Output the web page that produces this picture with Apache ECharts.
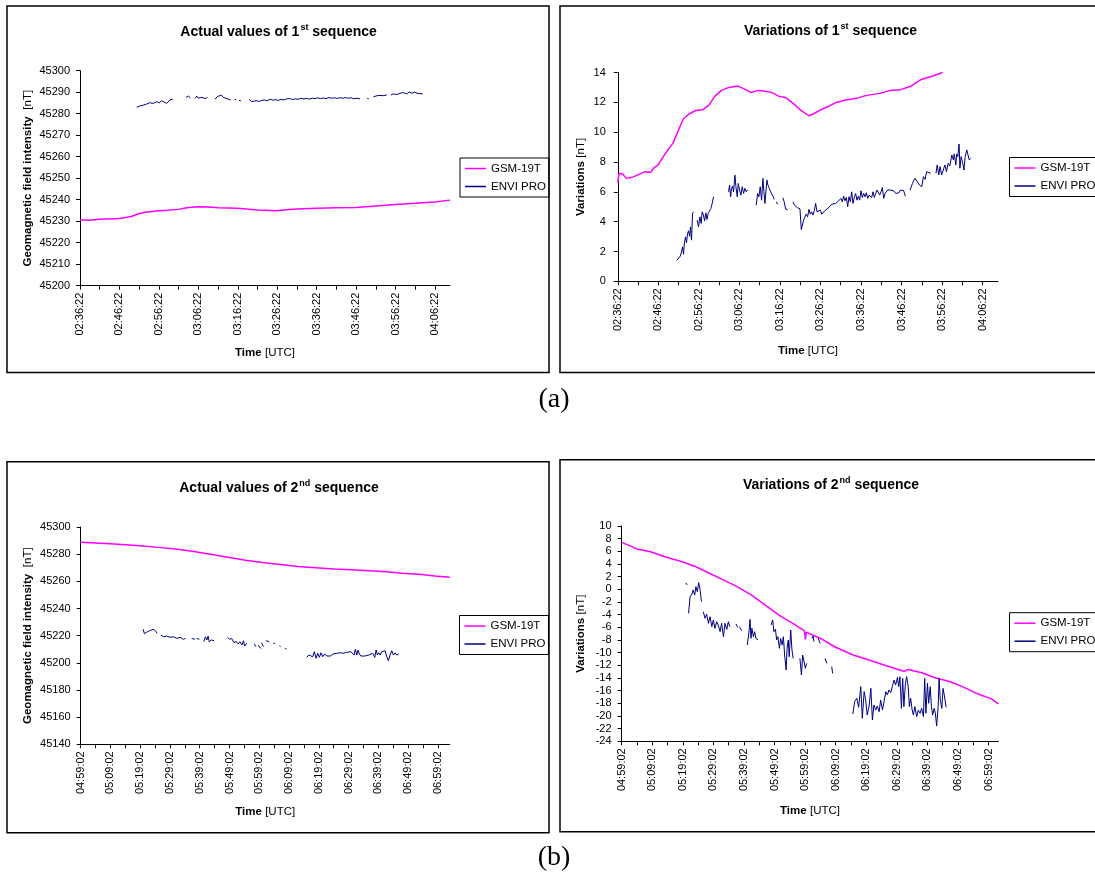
<!DOCTYPE html>
<html>
<head>
<meta charset="utf-8">
<script src="https://cdn.jsdelivr.net/npm/echarts@6/dist/echarts.min.js"></script>
<style>
html,body{margin:0;padding:0;background:#fff;}
#chart{width:1095px;height:875px;}
</style>
</head>
<body>
<div id="chart"></div>
<script>
// ---------------- DATA ----------------
// x = minutes after the first tick time of each sequence
const START_A = '02:36:22';
const START_B = '04:59:02';
const TICKS_A = [0,5,10,15,20,25,30,35,40,45,50,55,60,65,70,75,80,85,90];
const LABELS_A = [0,10,20,30,40,50,60,70,80,90];
const TICKS_B = [0,5,10,15,20,25,30,35,40,45,50,55,60,65,70,75,80,85,90,95,100,105,110,115,120];
const LABELS_B = [0,10,20,30,40,50,60,70,80,90,100,110,120];
const SERIES_NAMES = ['GSM-19T', 'ENVI PRO'];

// (a) actual values, 1st sequence  [minute, nT]; null = gap
const A1_GSM = [[0,45230.7],[2,45230.4],[5,45230.9],[10,45231.3],[13,45232.2],[15,45233.6],[17,45234.3],[20,45234.9],[22,45235.1],[25,45235.5],[27,45236.3],[30,45236.7],[33,45236.6],[35,45236.3],[40,45236.0],[45,45235.2],[50,45234.9],[53,45235.4],[55,45235.7],[60,45236.0],[65,45236.3],[70,45236.4],[75,45237.1],[80,45237.8],[85,45238.3],[90,45238.9],[93.8,45239.8]];
const A1_ENVI = [[14.4,45283.0],[15.2,45283.6],[16.1,45284.0],[16.9,45284.5],[17.7,45285.1],[18.6,45284.8],[19.4,45285.6],[20.1,45285.1],[20.7,45286.0],[21.1,45285.1],[22.0,45284.8],[22.8,45286.4],[23.5,45286.7],null,
[26.9,45287.6],[27.5,45288.2],[28.0,45287.3],null,
[29.2,45287.2],[29.6,45288.2],[30.0,45287.2],[30.9,45287.6],[31.7,45287.0],[32.3,45287.6],null,
[34.2,45286.7],[34.8,45287.9],[35.3,45287.2],[35.8,45288.7],[36.3,45287.6],[37.0,45287.2],[37.6,45286.7],[38.2,45286.4],null,
[39.2,45286.6],[39.6,45286.5],null,[40.3,45286.2],[40.8,45286.0],null,
[42.9,45286.7],[43.5,45285.6],[44.2,45285.9],[44.8,45286.0],[45.5,45285.7],[46.1,45286.2],[46.8,45286.4],[47.4,45286.0],[48.2,45286.7],[48.9,45286.3],[49.6,45286.5],[50.3,45286.2],[51.0,45286.7],[51.7,45286.4],[52.4,45286.9],[53.2,45287.0],[53.9,45286.6],[54.6,45286.9],[55.3,45286.7],[56.0,45287.2],[56.7,45286.9],[57.4,45287.1],[58.2,45286.8],[58.9,45287.2],[59.6,45287.0],[60.3,45287.4],[61.0,45287.0],[61.7,45287.3],[62.4,45287.0],[63.1,45287.5],[63.8,45287.2],[64.5,45287.4],[65.2,45287.1],[65.9,45287.4],[66.6,45287.2],[67.3,45287.5],[68.0,45287.2],[68.7,45287.4],[69.4,45287.0],[70.2,45287.2],[71.0,45286.9],null,
[72.8,45287.0],[73.2,45287.0],null,
[74.4,45287.9],[75.6,45288.5],[76.9,45288.4],[77.8,45288.7],null,
[78.8,45288.7],[79.4,45289.2],[80.3,45288.9],[81.1,45289.5],[82.0,45289.8],[82.8,45289.2],[83.5,45290.1],[84.1,45289.5],[84.8,45290.0],[85.7,45289.4],[86.9,45289.2]];

// (a) variations, 1st sequence  [minute, nT]
const A2_GSM = [[0,6.6],[0.3,7.25],[1.2,7.2],[2.1,6.9],[3.8,7.0],[5.5,7.2],[6.8,7.35],[8.1,7.3],[8.9,7.6],[10,7.8],[10.6,8.1],[12.3,8.8],[13.6,9.25],[14.9,10.1],[16.2,10.9],[17.5,11.2],[19.2,11.45],[20.9,11.5],[22.6,11.85],[23.9,12.4],[25.6,12.8],[27.4,13.0],[29.5,13.1],[31.2,12.9],[32.9,12.65],[34.6,12.8],[36.4,12.75],[38.1,12.65],[39.8,12.4],[41.5,12.3],[43.2,11.95],[45,11.5],[47.1,11.1],[48.4,11.25],[50.1,11.5],[51.8,11.7],[53.5,11.95],[56.1,12.15],[58.7,12.25],[60.4,12.4],[62.1,12.5],[64.7,12.6],[67.2,12.8],[69.8,12.85],[72.4,13.1],[75,13.55],[77.5,13.75],[80.1,14.0]];
const A2_ENVI = [[14.57,1.41],[14.98,1.52],[15.39,1.68],[15.72,1.97],[15.97,2.31],[16.21,1.81],[16.46,2.64],[16.71,2.98],[16.95,2.58],[17.20,3.20],[17.45,3.38],[17.70,3.02],[17.94,3.65],[18.19,2.76],[18.44,4.55],[18.68,4.66],null,
[19.59,4.10],[19.92,3.65],[20.25,4.32],[20.58,3.88],[20.82,4.66],[21.15,4.44],[21.40,4.05],[21.73,4.59],[21.98,4.14],[22.30,4.55],[22.63,4.66],[22.96,4.88],[23.29,5.22],[23.62,5.67],null,
[27.33,6.00],[27.57,6.45],[27.82,5.67],[28.07,6.23],[28.31,6.38],[28.56,6.00],[28.89,7.12],[29.14,6.34],[29.47,5.67],[29.71,6.56],[30.04,6.12],[30.37,5.78],[30.70,6.34],[31.03,5.89],[31.36,6.23],[31.69,6.00],[32.02,6.12],null,
[34.16,5.11],[34.49,5.89],[34.81,5.67],[35.14,6.34],[35.47,5.44],[35.80,6.90],[36.05,6.00],[36.30,5.22],[36.54,6.00],[36.79,6.79],[37.04,6.45],[37.37,6.23],[37.70,6.00],[38.02,5.89],[38.35,5.67],[38.60,5.49],null,
[39.09,5.33],[39.42,5.17],null,
[40.74,5.60],[41.07,5.30],[41.40,4.85],[41.89,4.80],null,
[43.21,5.33],[43.62,5.10],[44.03,5.05],[44.36,4.93],[44.69,4.98],[44.94,4.86],[45.27,3.47],[45.84,4.10],[46.17,4.32],[46.50,4.50],[46.83,4.32],[47.16,4.82],[47.49,4.50],[47.82,4.66],[48.15,4.44],[48.48,4.73],[48.81,5.22],[49.14,4.66],[49.55,4.55],[49.96,4.77],[50.37,4.50],[50.78,4.66],[51.28,4.77],[51.77,4.88],[52.26,5.00],[52.76,5.17],[53.25,5.11],[53.74,5.22],[54.24,5.33],[54.73,5.44],[55.06,5.56],[55.39,5.33],[55.72,5.71],[56.05,5.40],[56.38,5.62],[56.71,5.00],[57.04,5.67],[57.37,5.33],[57.70,6.00],[58.02,5.22],[58.35,5.62],[58.68,5.89],[59.01,5.44],[59.34,5.71],[59.67,5.44],[60.00,6.07],[60.33,5.62],[60.66,5.89],[60.99,5.67],[61.32,5.94],[61.65,5.56],[61.98,5.78],[62.30,5.89],[62.63,5.62],[62.96,6.00],[63.29,5.62],[63.62,5.89],[63.95,6.12],[64.28,6.23],[64.61,5.78],[64.94,6.00],[65.27,6.29],[65.60,5.56],[65.93,5.89],[66.26,5.78],[66.58,6.12],[66.91,6.07],[67.24,6.12],[67.57,6.00],[68.07,6.07],[68.56,5.89],[68.89,5.85],[69.38,5.94],[69.71,6.12],[70.12,6.16],[70.53,6.07],[70.95,5.71],null,
[72.1,6.12],[72.7,6.57],[73.3,6.91],[73.9,6.68],[74.4,6.46],[75.0,6.34],[75.4,7.02],[75.8,6.84],[76.2,7.35],[76.6,7.42],[77.2,7.24],null,
[78.5,7.24],[78.8,7.80],[79.2,7.13],[79.5,7.69],[79.9,7.13],[80.3,7.46],[80.7,7.80],[81.1,7.35],[81.5,7.91],[81.9,7.73],[82.4,8.47],[82.8,8.14],[83.0,8.54],[83.4,7.80],[83.6,8.54],[83.9,8.36],[84.2,9.21],[84.4,7.58],[84.7,8.36],[85.1,7.91],[85.4,7.46],[85.7,8.36],[86.1,8.81],[86.4,8.47],[86.7,8.14],[87.1,8.25]];

// (b) actual values, 2nd sequence
const B1_GSM = [[0,45288.7],[5,45288.2],[10,45287.6],[20,45286.2],[26,45285.0],[31.8,45283.8],[38,45282.0],[43.6,45280.0],[50,45277.6],[55.4,45275.6],[61,45273.8],[67.2,45272.4],[73,45271.0],[79,45270.0],[85,45269.0],[90.8,45268.5],[97,45267.8],[102.6,45267.0],[108,45266.0],[114.4,45265.0],[119,45264.0],[124,45263.0]];
const B1_ENVI = [[21.0,45224.7],[21.4,45221.5],[21.9,45220.5],[22.4,45222.9],[23.1,45223.6],[23.7,45222.9],[24.4,45224.7],[25.1,45223.6],[25.7,45221.7],null,
[26.9,45220.5],[27.8,45219.2],[28.9,45219.7],[30.0,45218.8],[31.1,45219.2],[32.3,45218.0],[33.4,45218.8],[34.5,45217.3],[35.2,45218.0],null,
[37.3,45218.0],[38.4,45217.3],null,[39.0,45218.0],[39.9,45217.3],null,
[41.4,45215.5],[41.9,45219.2],[42.4,45216.8],[42.8,45219.7],[43.2,45215.5],[43.9,45216.8],[44.8,45216.3],null,
[49.3,45218.8],[50.0,45217.3],[50.7,45218.0],[51.5,45214.8],[52.2,45215.8],[52.9,45213.9],[53.5,45215.5],[54.2,45213.1],[54.7,45216.3],[55.1,45212.4],[55.8,45214.4],null,
[58.3,45213.9],[58.9,45211.9],null,[59.7,45212.9],[60.5,45210.5],null,[60.8,45214.8],[61.4,45211.9],null,
[62.3,45216.3],[63.4,45215.5],null,[64.7,45214.4],[65.3,45214.4],null,[66.8,45212.4],[67.2,45211.9],null,[68.7,45210.7],[69.2,45210.0],null,
[75.97,45204.0],[76.64,45205.7],[77.31,45207.0],[77.98,45204.5],[78.52,45208.2],[79.09,45203.3],[79.66,45207.0],[80.20,45204.0],[80.77,45207.4],[81.34,45204.5],[82.02,45206.5],[82.69,45205.0],[83.36,45206.3],[84.03,45205.0],[84.71,45206.5],[85.38,45205.5],[86.05,45207.0],[86.72,45206.5],[87.39,45207.4],[88.07,45207.0],[88.74,45208.2],[89.41,45207.7],[90.08,45208.9],[90.76,45208.2],[91.43,45209.4],[91.87,45205.7],[92.30,45209.9],[92.77,45205.7],[93.21,45209.4],[93.65,45206.5],[94.12,45205.0],[94.79,45204.0],[95.46,45205.0],[96.13,45204.0],[96.81,45205.7],[97.48,45204.5],[98.15,45207.0],[98.82,45204.0],[99.26,45209.4],[99.70,45205.7],[100.17,45207.4],[100.61,45205.7],[101.18,45208.2],[101.71,45207.0],[102.29,45208.9],[102.86,45204.5],[103.39,45201.5],[103.97,45205.7],[104.54,45208.9],[105.08,45205.7],[105.65,45207.4],[106.22,45205.7],[106.89,45206.5]];

// (b) variations, 2nd sequence
const B2_GSM = [[0,7.41],[2.7,6.9],[5,6.36],[9.5,5.93],[14.1,5.14],[19.8,4.35],[24.3,3.56],[28.9,2.5],[33.4,1.45],[37.95,0.39],[42.5,-0.93],[47,-2.51],[51.6,-4.1],[56.1,-5.42],[59.8,-6.55],[60.1,-7.9],[60.4,-6.75],[65.2,-7.8],[69.8,-9.11],[75.5,-10.33],[81.1,-11.2],[86.8,-12.1],[92.5,-12.97],[93.6,-12.65],[98.2,-13.18],[102.7,-14.0],[107.3,-14.55],[111.8,-15.45],[116.4,-16.5],[120.9,-17.3],[123.2,-18.1]];
const B2_ENVI = [[21.06,1.0],[21.39,0.7],null,
[21.9,-3.79],[22.4,-1.16],[23.0,-0.74],[23.4,-0.1],[23.9,-0.9],[24.3,0.41],[24.75,-0.37],[25.2,1.05],[25.6,0.16],[26.1,-1.95],null,
[26.7,-3.53],[27.3,-4.58],[27.8,-3.9],[28.4,-5.37],[28.9,-4.32],[29.5,-5.9],[30.0,-4.84],[30.5,-6.16],[31.1,-5.11],[31.6,-5.64],[32.2,-6.69],[32.7,-5.37],[33.3,-7.48],[33.8,-5.37],[34.4,-6.32],[34.9,-5.11],[35.4,-5.9],null,
[37.4,-5.48],[37.96,-6.0],null,[38.5,-5.9],[39.3,-6.53],null,
[41.1,-8.79],[41.6,-6.95],[42.0,-4.74],[42.3,-7.74],[42.6,-6.16],[43.1,-7.48],[43.5,-6.69],[43.9,-7.74],[44.6,-8.0],null,
[48.9,-5.63],[49.4,-4.84],[49.8,-6.69],[50.3,-6.32],[50.7,-8.0],[51.1,-7.48],[51.6,-9.32],[52.0,-7.74],[52.5,-8.79],[52.9,-7.48],[53.3,-10.37],[53.8,-12.74],[54.1,-9.32],[54.5,-8.0],[54.8,-10.64],[55.3,-6.42],[55.7,-9.58],[56.1,-10.9],null,
[58.3,-10.9],[58.8,-13.53],[59.2,-10.37],[59.6,-10.64],[60.1,-12.47],[60.5,-11.69],null,
[62.2,-7.74],[62.6,-7.37],[62.9,-8.27],null,[64.3,-7.74],[64.9,-8.53],null,
[66.5,-10.9],[67.1,-11.69],null,[68.7,-12.2],[69.0,-13.27],null,
[75.6,-19.69],[76.2,-17.74],[76.9,-17.2],[77.5,-18.63],[78.2,-15.37],[78.7,-20.37],[79.3,-16.16],[79.8,-17.47],[80.3,-19.85],[80.9,-18.53],[81.5,-15.63],[82.0,-20.64],[82.5,-18.27],[83.1,-19.06],[83.6,-18.43],[84.2,-19.33],[84.7,-17.48],[85.3,-19.06],[85.8,-17.74],[86.4,-16.16],[86.9,-16.69],[87.4,-15.9],[88.0,-16.32],[88.5,-15.37],[89.1,-14.32],[89.6,-15.11],[90.2,-13.9],[90.6,-15.37],[91.0,-13.79],[91.5,-18.8],[91.9,-14.06],[92.3,-18.53],[92.8,-14.85],[93.2,-13.79],[93.7,-15.37],[94.1,-18.53],[94.5,-17.2],[95.0,-19.06],[95.4,-19.85],[95.9,-18.53],[96.5,-20.11],[97.0,-19.06],[97.6,-19.58],[98.1,-18.8],[98.7,-20.11],[99.1,-14.06],[99.5,-19.58],[100.0,-14.85],[100.4,-18.0],[100.9,-15.37],[101.3,-18.53],[101.7,-19.85],[102.2,-18.8],[102.6,-19.58],[103.0,-21.6],[103.5,-18.53],[103.8,-14.06],[104.2,-17.48],[104.7,-18.8],[105.1,-15.64],[105.5,-16.69],[106.1,-18.63]];

// ---------------- CHART ----------------
const FONT = 'Arial, "Liberation Sans", sans-serif';
const MAGENTA = '#FF00FF', NAVY = '#000080';

function toSec(s){ const p = s.split(':').map(Number); return p[0]*3600+p[1]*60+p[2]; }
function clock(start, m){
  let s = Math.round(toSec(start) + m*60);
  const pad = n => String(n).padStart(2,'0');
  return pad(Math.floor(s/3600)%24)+':'+pad(Math.floor(s%3600/60))+':'+pad(s%60);
}
function pts(arr){ return arr.map(p => p ? p : ['-','-']); }

const richName = {
  b: {fontFamily: FONT, fontSize: 11.5, fontWeight: 'bold', color: '#000'},
  n: {fontFamily: FONT, fontSize: 11.5, color: '#000'}
};

const grids = [
  {left: 80, top: 70.7, width: 370, height: 215},
  {left: 617.8, top: 72.5, width: 380.2, height: 208.8},
  {left: 80.7, top: 527, width: 369, height: 217.3},
  {left: 621.6, top: 526, width: 376.8, height: 215.3}
];

function xAx(i, start, max, ticks, labels, gap){
  return {
    type: 'value', gridIndex: i, min: 0, max: max, interval: 5,
    axisLine: {show: true, onZero: false, lineStyle: {color: '#000', width: 1}},
    axisTick: {show: true, length: 4, customValues: ticks, lineStyle: {color: '#000', width: 1}},
    axisLabel: {customValues: labels, rotate: 90, margin: 7, fontFamily: FONT, fontSize: 11, color: '#000',
      formatter: v => clock(start, v)},
    splitLine: {show: false},
    name: '{b|Time} {n|[UTC]}', nameLocation: 'middle', nameGap: gap,
    nameTextStyle: {rich: richName}
  };
}
function yAx(i, min, max, interval, name, gap, margin){
  return {
    type: 'value', gridIndex: i, min: min, max: max, interval: interval,
    axisLine: {show: true, onZero: false, lineStyle: {color: '#000', width: 1}},
    axisTick: {show: true, length: 4, lineStyle: {color: '#000', width: 1}},
    axisLabel: {margin: margin, fontFamily: FONT, fontSize: 11, color: '#000', formatter: v => String(v)},
    splitLine: {show: false},
    name: name, nameLocation: 'middle', nameRotate: 90, nameGap: gap,
    nameTextStyle: {rich: richName}
  };
}
function line(name, data, idx, color, width){
  return {
    type: 'line', name: name, data: pts(data), xAxisIndex: idx, yAxisIndex: idx,
    symbol: 'none', showSymbol: false, connectNulls: false, animation: false,
    lineStyle: {color: color, width: width}, itemStyle: {color: color}
  };
}
function legend(left, top){
  return {
    orient: 'vertical', left: left, top: top, data: SERIES_NAMES, selectedMode: false,
    borderColor: '#000', borderWidth: 1, padding: [4, 3, 4, 5], itemGap: 5,
    icon: 'rect', itemWidth: 21, itemHeight: 1.5,
    textStyle: {fontFamily: FONT, fontSize: 11.5, color: '#000', lineHeight: 13}
  };
}
function title(x, y, main, sup){
  return {
    type: 'text', x: x, y: y, z: 10,
    style: {
      text: '{b|' + main + '}{s|' + sup + '}{b| sequence}',
      align: 'center', verticalAlign: 'middle', textAlign: 'center', textVerticalAlign: 'middle',
      rich: {
        b: {fontFamily: FONT, fontSize: 14, fontWeight: 'bold', fill: '#000', color: '#000', verticalAlign: 'bottom'},
        s: {fontFamily: FONT, fontSize: 9, fontWeight: 'bold', fill: '#000', color: '#000', verticalAlign: 'bottom', padding: [0, 0, 7, 1]}
      }
    }
  };
}
function frame(x, y, w, h){
  return {type: 'rect', shape: {x: x, y: y, width: w, height: h}, z: 0,
    style: {fill: 'none', stroke: '#000', lineWidth: 1.5}};
}
function label(x, y, t){
  return {type: 'text', x: x, y: y, style: {text: t, font: '28px "Liberation Serif", "DejaVu Serif", serif',
    fill: '#000', align: 'center', verticalAlign: 'middle', textAlign: 'center', textVerticalAlign: 'middle'}};
}

const chart = echarts.init(document.getElementById('chart'), null, {renderer: 'canvas'});
chart.setOption({
  backgroundColor: '#fff',
  animation: false,
  grid: grids,
  xAxis: [
    xAx(0, START_A, 93.8, TICKS_A, LABELS_A, 61),
    xAx(1, START_A, 93.8, TICKS_A, LABELS_A, 64),
    xAx(2, START_B, 124, TICKS_B, LABELS_B, 62),
    xAx(3, START_B, 123.2, TICKS_B, LABELS_B, 64)
  ],
  yAxis: [
    yAx(0, 45200, 45300, 10, '{b|Geomagnetic field intensity}  {n|[nT]}', 46, 10),
    yAx(1, 0, 14, 2, '{b|Variations} {n|[nT]}', 31, 12),
    yAx(2, 45140, 45300, 20, '{b|Geomagnetic field intensity}  {n|[nT]}', 47, 10),
    yAx(3, -24, 10, 2, '{b|Variations} {n|[nT]}', 35, 10)
  ],
  legend: [legend(460, 158), legend(1009.5, 157.5), legend(459.5, 615.5), legend(1009.5, 612.7)],
  series: [
    line('GSM-19T', A1_GSM, 0, MAGENTA, 1.5),
    line('ENVI PRO', A1_ENVI, 0, NAVY, 1),
    line('GSM-19T', A2_GSM, 1, MAGENTA, 1.5),
    line('ENVI PRO', A2_ENVI, 1, NAVY, 1),
    line('GSM-19T', B1_GSM, 2, MAGENTA, 1.5),
    line('ENVI PRO', B1_ENVI, 2, NAVY, 1),
    line('GSM-19T', B2_GSM, 3, MAGENTA, 1.5),
    line('ENVI PRO', B2_ENVI, 3, NAVY, 1)
  ],
  graphic: [
    frame(7, 6, 542, 366.5),
    frame(560, 6, 600, 366.5),
    frame(7, 461.7, 542, 371),
    frame(560, 459.7, 600, 372),
    title(278.6, 31, 'Actual values of 1', 'st'),
    title(830.5, 30, 'Variations of 1', 'st'),
    title(279, 487, 'Actual values of 2', 'nd'),
    title(831, 484, 'Variations of 2', 'nd'),
    label(554, 400, '(a)'),
    label(554, 858, '(b)')
  ]
});
</script>
</body>
</html>
